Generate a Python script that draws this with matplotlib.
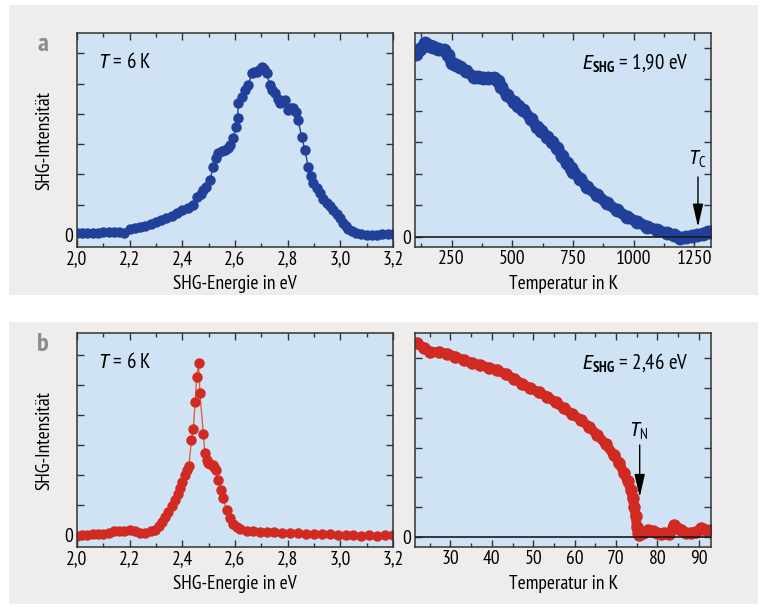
"""SHG spectra and temperature dependence, panels a (blue) and b (red)."""

import matplotlib

matplotlib.use("Agg")
import matplotlib.pyplot as plt  # noqa: E402
from matplotlib.patches import Rectangle  # noqa: E402
from matplotlib.ticker import MultipleLocator, FixedLocator  # noqa: E402

FONT = "PT Sans Narrow"
plt.rcParams["font.family"] = [FONT, "Roboto Condensed", "DejaVu Sans"]
plt.rcParams["mathtext.fontset"] = "custom"
plt.rcParams["mathtext.rm"] = FONT
plt.rcParams["mathtext.it"] = "Roboto Condensed:italic"
plt.rcParams["mathtext.bf"] = FONT + ":bold"

# --- panel a, left: SHG spectrum at 6 K ---
energy_a = [
    2.00, 2.02, 2.04, 2.06, 2.08, 2.10, 2.12, 2.14, 2.16, 2.18,
    2.20, 2.22, 2.24, 2.26, 2.28, 2.30, 2.32, 2.34, 2.36, 2.38,
    2.40, 2.42, 2.44, 2.455, 2.47, 2.48, 2.49, 2.505, 2.518, 2.528,
    2.537, 2.55, 2.562, 2.572, 2.581, 2.594, 2.603, 2.61, 2.613, 2.625,
    2.638, 2.651, 2.663, 2.672, 2.682, 2.692, 2.701, 2.71, 2.72, 2.733,
    2.742, 2.752, 2.762, 2.771, 2.78, 2.79, 2.802, 2.812, 2.821, 2.83,
    2.84, 2.853, 2.866, 2.878, 2.888, 2.897, 2.91, 2.923, 2.935, 2.948,
    2.96, 2.973, 2.986, 2.999, 3.01, 3.02, 3.03, 3.045, 3.06, 3.08,
    3.10, 3.12, 3.14, 3.16, 3.18, 3.20,
]
shg_a = [
    0.07, 0.06, 0.08, 0.06, 0.08, 0.09, 0.10, 0.10, 0.09, 0.07,
    0.18, 0.24, 0.27, 0.30, 0.36, 0.43, 0.50, 0.56, 0.64, 0.74,
    0.82, 0.88, 0.98, 1.26, 1.36, 1.49, 1.60, 1.82, 2.25, 2.55,
    2.70, 2.78, 2.80, 2.88, 2.97, 3.19, 3.57, 3.85, 4.35, 4.56,
    4.79, 4.95, 5.34, 5.38, 5.39, 5.45, 5.56, 5.48, 5.34, 4.95,
    4.80, 4.68, 4.50, 4.35, 4.40, 4.46, 4.13, 4.20, 4.18, 4.05,
    3.80, 3.25, 2.80, 2.25, 1.95, 1.71, 1.55, 1.38, 1.20, 1.05,
    0.95, 0.83, 0.70, 0.55, 0.40, 0.28, 0.20, 0.12, 0.06, 0.02,
    0.00, 0.01, 0.00, 0.02, 0.04, 0.03,
]

# --- panel a, right: temperature dependence at 1,90 eV ---
temp_a = [
    105, 120, 141, 160, 175, 195, 217, 235, 251, 268,
    285, 310, 340, 360, 381, 400, 423, 440, 455, 478,
    505, 525, 546, 575, 601, 620, 643, 665, 684, 705,
    725, 740, 752, 780, 807, 850, 890, 930, 972, 1015,
    1055, 1095, 1137, 1165, 1192, 1215, 1240, 1261, 1285, 1308,
    1318,
]
tdep_a = [
    5.81, 5.95, 6.13, 6.05, 6.02, 5.95, 5.92, 5.75, 5.50, 5.45,
    5.39, 5.25, 5.07, 5.06, 5.05, 5.05, 5.02, 4.95, 4.75, 4.49,
    4.28, 4.15, 4.02, 3.75, 3.49, 3.35, 3.17, 3.00, 2.81, 2.58,
    2.33, 2.18, 2.07, 1.85, 1.59, 1.32, 1.07, 0.85, 0.64, 0.47,
    0.33, 0.22, 0.12, 0.06, -0.02, 0.00, 0.02, 0.06, 0.10, 0.17,
    0.15,
]

# --- panel b, left: SHG spectrum at 6 K ---
energy_b = [
    2.00, 2.02, 2.04, 2.06, 2.08, 2.10, 2.12, 2.14, 2.16, 2.18,
    2.20, 2.22, 2.24, 2.26, 2.28, 2.296, 2.31, 2.322, 2.335, 2.347,
    2.36, 2.372, 2.382, 2.391, 2.40, 2.41, 2.418, 2.425, 2.435, 2.442,
    2.449, 2.455, 2.462, 2.467, 2.48, 2.486, 2.493, 2.499, 2.507, 2.515,
    2.522, 2.528, 2.537, 2.546, 2.556, 2.568, 2.581, 2.594, 2.607, 2.62,
    2.645, 2.67, 2.695, 2.72, 2.75, 2.78, 2.81, 2.84, 2.87, 2.90,
    2.93, 2.96, 2.99, 3.02, 3.05, 3.08, 3.11, 3.14, 3.17, 3.20,
]
shg_b = [
    -0.02, 0.00, 0.00, 0.02, 0.03, 0.02, 0.08, 0.14, 0.15, 0.12,
    0.17, 0.13, 0.06, 0.08, 0.12, 0.17, 0.30, 0.44, 0.60, 0.78,
    0.98, 1.17, 1.37, 1.56, 1.78, 2.00, 2.15, 2.30, 3.17, 3.53,
    4.44, 5.28, 5.72, 4.74, 3.36, 2.72, 2.50, 2.41, 2.38, 2.33,
    2.25, 2.17, 1.83, 1.50, 1.22, 0.83, 0.56, 0.38, 0.28, 0.20,
    0.14, 0.12, 0.11, 0.10, 0.09, 0.08, 0.08, 0.06, 0.05, 0.04,
    0.03, 0.02, 0.01, 0.00, -0.01, -0.02, -0.01, -0.02, -0.01, -0.01,
]

# --- panel b, right: temperature dependence at 2,46 eV ---
temp_b = [
    21.9, 23.5, 25.1, 27.2, 29.2, 31.2, 33.2, 35.2, 37.2, 39.3,
    41.3, 43.3, 45.3, 47.3, 49.3, 51.3, 53.4, 55.4, 57.4, 59.4,
    61.5, 63.5, 65.5, 67.5, 69.5, 70.8, 71.9, 72.8, 73.6, 74.0,
    74.4, 74.7, 75.0, 75.3, 75.6, 76.5, 77.6, 78.8, 80.0, 80.8,
    81.6, 82.8, 84.0, 84.8, 85.7, 86.9, 88.1, 89.3, 90.5, 91.7,
    92.9,
]
tdep_b = [
    6.50, 6.35, 6.22, 6.20, 6.16, 6.05, 5.94, 5.85, 5.77, 5.68,
    5.60, 5.47, 5.32, 5.15, 4.99, 4.86, 4.71, 4.52, 4.32, 4.13,
    3.93, 3.70, 3.42, 3.12, 2.75, 2.47, 2.14, 1.87, 1.58, 1.30,
    1.02, 0.70, 0.35, 0.15, 0.07, 0.15, 0.23, 0.20, 0.12, 0.10,
    0.12, 0.10, 0.40, 0.30, 0.23, 0.15, 0.12, 0.18, 0.29, 0.22,
    0.23,
]

BLUE = "#20409a"
RED = "#d02a22"
RED_LINE = "#d9653e"
AX_BG = "#d0e3f4"
BOX_BG = "#eeedeb"
SPINE = "#333333"
FS = 14


def _style(ax, xmajor, xminor, ylim):
    ax.set_facecolor(AX_BG)
    for s in ax.spines.values():
        s.set_color(SPINE)
        s.set_linewidth(1.1)
    ax.xaxis.set_major_locator(MultipleLocator(xmajor))
    ax.xaxis.set_minor_locator(MultipleLocator(xminor))
    ax.yaxis.set_major_locator(FixedLocator(range(0, 7)))
    ax.set_yticklabels(["0", "", "", "", "", "", ""])
    ax.set_ylim(*ylim)
    ax.tick_params(which="both", direction="in", top=True, right=True,
                   color=SPINE, labelsize=FS, width=1.0)
    ax.tick_params(which="major", length=5)
    ax.tick_params(which="minor", length=3)
    ax.tick_params(axis="x", pad=2)
    ax.tick_params(axis="y", pad=3)


def _comma(ax, fmt):
    ax.xaxis.set_major_formatter(
        matplotlib.ticker.FuncFormatter(lambda v, p: fmt.format(v).replace(".", ","))
    )


fig = plt.figure(figsize=(7.69, 6.07), dpi=100)
fig.patch.set_facecolor("white")
for y0, h in ((0.514, 0.478), (0.005, 0.4646)):
    fig.patches.append(Rectangle((0.0117, y0), 0.974, h, transform=fig.transFigure,
                                 facecolor=BOX_BG, edgecolor="none", zorder=-10))

ax_al = fig.add_axes([0.100, 0.593, 0.411, 0.3526])
ax_ar = fig.add_axes([0.540, 0.593, 0.385, 0.3526])
ax_bl = fig.add_axes([0.100, 0.0988, 0.411, 0.3526])
ax_br = fig.add_axes([0.540, 0.0988, 0.385, 0.3526])

# panel a left
ax_al.plot(energy_a, shg_a, "-o", color=BLUE, lw=1.0, ms=6.5, mec=BLUE)
_style(ax_al, 0.2, 0.1, (-0.4, 6.67))
ax_al.set_xlim(2.0, 3.2)
_comma(ax_al, "{:.1f}")

# panel a right
ax_ar.plot(temp_a, tdep_a, "-o", color=BLUE, lw=8, ms=9, mec=BLUE,
           solid_capstyle="round", solid_joinstyle="round")
_style(ax_ar, 250, 125, (-0.32, 6.46))
ax_ar.set_xlim(100, 1320)
ax_ar.axhline(0, color="#1a1a1a", lw=1.2, zorder=3)

# panel b left
ax_bl.plot(energy_b, shg_b, "-o", color=RED_LINE, lw=1.0, ms=6.5,
           mfc=RED, mec=RED)
_style(ax_bl, 0.2, 0.1, (-0.4, 6.73))
ax_bl.set_xlim(2.0, 3.2)
_comma(ax_bl, "{:.1f}")

# panel b right
ax_br.plot(temp_b, tdep_b, "-o", color=RED, lw=7, ms=8, mec=RED,
           solid_capstyle="round", solid_joinstyle="round")
_style(ax_br, 10, 5, (-0.335, 6.85))
ax_br.set_xlim(21.5, 93)
ax_br.axhline(0, color="#1a1a1a", lw=1.2, zorder=3)

for ax in (ax_al, ax_bl):
    ax.set_xlabel("SHG-Energie in eV", fontsize=FS, labelpad=5)
    ax.set_ylabel("SHG-Intensität", fontsize=FS)
    ax.yaxis.set_label_coords(-0.073, 0.5)
    ax.text(0.066, 0.865, r"$T$ = 6 K", transform=ax.transAxes,
            fontsize=FS + 1, ha="left", va="center")
for ax in (ax_ar, ax_br):
    ax.set_xlabel("Temperatur in K", fontsize=FS, labelpad=5)

ax_ar.text(0.922, 0.86, r"$E_{\mathbf{SHG}}$ = 1,90 eV", transform=ax_ar.transAxes,
           fontsize=FS + 1, ha="right", va="center")
ax_br.text(0.922, 0.86, r"$E_{\mathbf{SHG}}$ = 2,46 eV", transform=ax_br.transAxes,
           fontsize=FS + 1, ha="right", va="center")

arrow = dict(arrowstyle="-|>,head_length=1.4,head_width=0.32", mutation_scale=10,
             color="black", lw=1.0, shrinkA=0, shrinkB=0)
ax_ar.annotate("", xy=(1265, 0.32), xytext=(1265, 1.9), arrowprops=arrow)
ax_ar.text(1262, 2.45, r"$T_{\mathrm{C}}$", fontsize=FS + 1, ha="center", va="center")
ax_br.annotate("", xy=(75.7, 1.34), xytext=(75.7, 3.09), arrowprops=arrow)
ax_br.text(75.5, 3.55, r"$T_{\mathrm{N}}$", fontsize=FS + 1, ha="center", va="center")

fig.text(0.056, 0.926, "a", fontsize=19, fontweight="bold", color="#8c8c8c",
         ha="center", va="center")
fig.text(0.056, 0.432, "b", fontsize=19, fontweight="bold", color="#8c8c8c",
         ha="center", va="center")

fig.savefig("out.png", dpi=100, facecolor=fig.get_facecolor())
